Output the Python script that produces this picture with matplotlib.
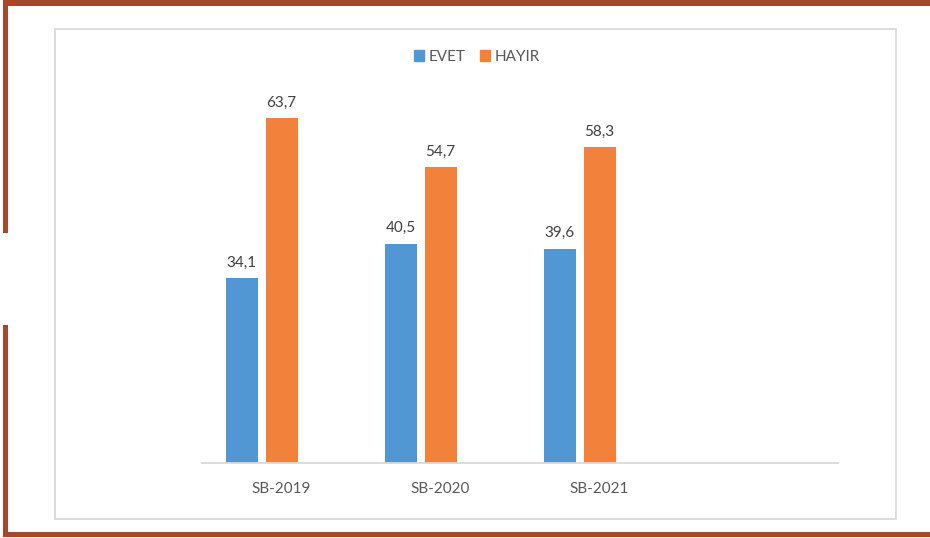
import numpy as np
import matplotlib
matplotlib.use("Agg")
import matplotlib.pyplot as plt
from matplotlib.patches import Rectangle, Patch

plt.rcParams['font.family'] = ['Lato', 'DejaVu Sans']

categories = ["SB-2019", "SB-2020", "SB-2021", ""]
evet = [34.1, 40.5, 39.6]
hayir = [63.7, 54.7, 58.3]
series_names = ["EVET", "HAYIR"]

BLUE = "#5097D3"
ORANGE = "#F2823B"
BROWN = "#A6472A"
GRID = "#D9D9D9"
TXT = "#595959"

W, H = 930, 538
fig = plt.figure(figsize=(W / 100, H / 100), dpi=100)

def px(x0, y0, x1, y1):
    # pixel box (top-left origin) -> figure fraction rect
    return (x0 / W, 1 - y1 / H, (x1 - x0) / W, (y1 - y0) / H)

# brown decorative frame
for x0, y0, x1, y1 in [(3, 0, 930, 6), (3, 532, 930, 537), (3, 0, 8, 233), (3, 325, 8, 537)]:
    l, b, w, h = px(x0, y0, x1, y1)
    fig.patches.append(Rectangle((l, b), w, h, transform=fig.transFigure,
                                 facecolor=BROWN, edgecolor="none"))

# gray chart box
l, b, w, h = px(55, 29, 896, 519)
fig.patches.append(Rectangle((l, b), w, h, transform=fig.transFigure,
                             facecolor="none", edgecolor=GRID, lw=1.3))

ax = fig.add_axes(px(202, 84, 838, 463))
x = np.arange(len(categories))
bw = 32 / 159
step = 40 / 159   # third (empty) series sits at +step

b1 = ax.bar(x[:len(evet)] - step, evet, bw, color=BLUE)
b2 = ax.bar(x[:len(hayir)], hayir, bw, color=ORANGE)

for bars, vals in [(b1, evet), (b2, hayir)]:
    for r, v in zip(bars, vals):
        ax.annotate(f"{v:.1f}".replace(".", ","), (r.get_x() + r.get_width() / 2, v),
                    xytext=(0, 6), textcoords="offset points", ha="center", va="bottom",
                    fontsize=11, color="#404040")

ax.set_xlim(-0.5, len(categories) - 0.5)
ax.set_ylim(0, 70)
ax.set_xticks(x)
ax.set_xticklabels(categories, fontsize=11, color=TXT)
ax.tick_params(axis="x", length=0, pad=14)
ax.set_yticks([])
for s in ["top", "left", "right"]:
    ax.spines[s].set_visible(False)
ax.spines["bottom"].set_color(GRID)
ax.spines["bottom"].set_linewidth(1.3)

handles = [Patch(color=BLUE), Patch(color=ORANGE)]
fig.legend(handles, series_names, loc="center", bbox_to_anchor=(477 / W, 1 - 57 / H),
           ncol=2, frameon=False, fontsize=11, labelcolor=TXT,
           handlelength=0.7, handleheight=0.7, handletextpad=0.3, columnspacing=0.9)

fig.savefig("out.png", dpi=100)
